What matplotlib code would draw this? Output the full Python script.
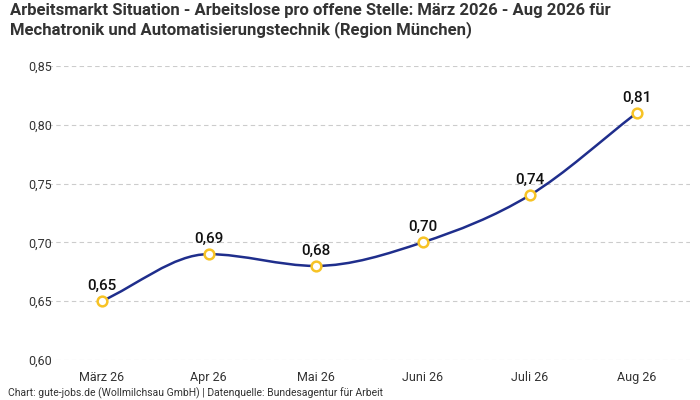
import matplotlib
matplotlib.use('Agg')
import matplotlib.pyplot as plt
import numpy as np
from matplotlib.path import Path
from matplotlib.patches import PathPatch

# data
months = ['März 26', 'Apr 26', 'Mai 26', 'Juni 26', 'Juli 26', 'Aug 26']
values = [0.65, 0.69, 0.68, 0.70, 0.74, 0.81]
y_ticks = [0.60, 0.65, 0.70, 0.75, 0.80, 0.85]

title = ('Arbeitsmarkt Situation - Arbeitslose pro offene Stelle: März 2026 - Aug 2026 für\n'
         'Mechatronik und Automatisierungstechnik (Region München)')
footer = 'Chart: gute-jobs.de (Wollmilchsau GmbH) | Datenquelle: Bundesagentur für Arbeit'

LINE = '#1f2e8c'
MARKER = '#f7c325'
TEXT = '#333333'

plt.rcParams['font.family'] = ['Roboto', 'DejaVu Sans']


def monotone_path(x, y):
    """
    bezier path through the points with monotone cubic tangents
    """
    x = np.asarray(x, float)
    y = np.asarray(y, float)
    h = np.diff(x)
    d = np.diff(y) / h
    m = np.zeros_like(y)
    m[0], m[-1] = d[0], d[-1]
    for i in range(1, len(y) - 1):
        if d[i - 1] * d[i] <= 0:
            m[i] = 0
        else:
            m[i] = (d[i - 1] + d[i]) / 2
    for i in range(len(d)):
        if d[i] == 0:
            m[i] = m[i + 1] = 0
            continue
        a, b = m[i] / d[i], m[i + 1] / d[i]
        s = a * a + b * b
        if s > 9:
            t = 3 / np.sqrt(s)
            m[i], m[i + 1] = t * a * d[i], t * b * d[i]
    verts = [(x[0], y[0])]
    codes = [Path.MOVETO]
    for i in range(len(d)):
        verts += [(x[i] + h[i] / 3, y[i] + m[i] * h[i] / 3),
                  (x[i + 1] - h[i] / 3, y[i + 1] - m[i + 1] * h[i] / 3),
                  (x[i + 1], y[i + 1])]
        codes += [Path.CURVE4] * 3
    return Path(verts, codes)


fig = plt.figure(figsize=(7, 4), dpi=100)
ax = fig.add_axes([48 / 700, 0.1, 642 / 700, 0.735])

xs = np.arange(len(months))
ax.add_patch(PathPatch(monotone_path(xs, values), facecolor='none',
                       edgecolor=LINE, lw=1.8, zorder=3))
ax.plot(xs, values, 'o', ms=7, mfc='white', mec=MARKER, mew=1.8, zorder=4)
for x, v in zip(xs, values):
    ax.annotate(f'{v:.2f}'.replace('.', ','), (x, v), xytext=(0, 6),
                textcoords='offset points', ha='center', va='bottom',
                fontsize=11, fontweight='medium', color='#111111')

ax.set_xlim(-0.5, len(months) - 0.5)
ax.set_ylim(0.60, 0.85)
ax.set_xticks(xs, months)
ax.set_yticks(y_ticks, [f'{t:.2f}'.replace('.', ',') for t in y_ticks])
ax.tick_params(length=0, labelsize=9, colors=TEXT)
ax.tick_params(axis='x', pad=8)
ax.tick_params(axis='y', pad=14)
for lab in ax.get_yticklabels():
    lab.set_horizontalalignment('left')
ax.grid(axis='y', ls=(0, (4, 3)), color='#cccccc', lw=0.8)
ax.grid(axis='x', visible=False)
for s in ax.spines.values():
    s.set_visible(False)

fig.text(10 / 700, 1 - 3 / 400, title, ha='left', va='top', fontsize=12,
         fontweight='bold', color=TEXT, linespacing=1.25)
fig.text(8 / 700, 1 - 393 / 400, footer, ha='left', va='center',
         fontsize=7.5, color=TEXT)

fig.savefig('out.png', dpi=100)
